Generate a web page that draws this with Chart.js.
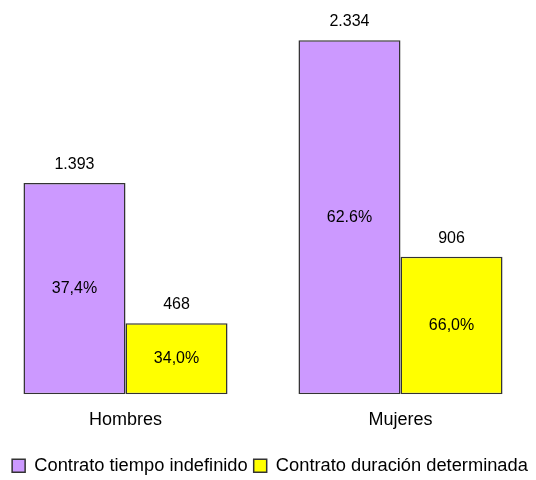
<!DOCTYPE html>
<html>
<head>
<meta charset="utf-8">
<script src="https://cdn.jsdelivr.net/npm/chart.js@4.4.0/dist/chart.umd.min.js"></script>
<style>
  html, body { margin: 0; padding: 0; background: #fff; overflow: hidden; }
  #wrap { position: absolute; left: -12px; top: 0; width: 564px; height: 480px; }
</style>
</head>
<body>
<div id="wrap"><canvas id="myChart"></canvas></div>
<script>
// categorias
var categories = ["Hombres", "Mujeres"];
// series
var seriesNames = ["Contrato tiempo indefinido", "Contrato duración determinada"];
var indefinido = [1393, 2334];
var determinada = [468, 906];
// porcentajes dentro de las barras
var pctIndefinido = ["37,4%", "62.6%"];
var pctDeterminada = ["34,0%", "66,0%"];

var FONT = "'Liberation Sans', Arial, sans-serif";

function fmt(n) {
    return String(n).replace(/\B(?=(\d{3})+(?!\d))/g, ".");
}

// etiquetas de valor y porcentaje
var barLabels = {
    id: "barLabels",
    afterDatasetsDraw: function (chart) {
        var ctx = chart.ctx;
        ctx.save();
        ctx.font = "16px " + FONT;
        ctx.fillStyle = "#000";
        ctx.textAlign = "center";
        chart.data.datasets.forEach(function (ds, i) {
            var meta = chart.getDatasetMeta(i);
            meta.data.forEach(function (bar, j) {
                ctx.textBaseline = "alphabetic";
                ctx.fillText(fmt(ds.data[j]), bar.x, bar.y - 14);
                ctx.textBaseline = "middle";
                ctx.fillText(ds.pct[j], bar.x, (bar.y + bar.base) / 2);
            });
        });
        ctx.restore();
    }
};

var ctx = document.getElementById("myChart");
var myChart = new Chart(ctx, {
    type: "bar",
    data: {
        labels: categories,
        datasets: [
            {
                label: seriesNames[0],
                data: indefinido,
                pct: pctIndefinido,
                backgroundColor: "#CC99FF",
                borderColor: "#333",
                borderWidth: 1.5,
                borderSkipped: false,
            },
            {
                label: seriesNames[1],
                data: determinada,
                pct: pctDeterminada,
                backgroundColor: "#FFFF00",
                borderColor: "#333",
                borderWidth: 1.5,
                borderSkipped: false,
            },
        ],
    },
    options: {
        responsive: true,
        maintainAspectRatio: false,
        animation: false,
        categoryPercentage: 0.742,
        barPercentage: 1,
        layout: { padding: { top: 15, right: 0, left: 0, bottom: -5 } },
        plugins: {
            tooltip: { enabled: false },
            legend: {
                position: "bottom",
                labels: {
                    color: "#000",
                    boxWidth: 13,
                    boxHeight: 13,
                    padding: 6,
                    font: { family: FONT, size: 18.3 },
                },
            },
        },
        scales: {
            x: {
                grid: { display: false, drawTicks: false },
                border: { display: false },
                ticks: {
                    color: "#000",
                    padding: 15,
                    font: { family: FONT, size: 18 },
                },
                afterFit: function (scale) {
                    scale.height = 56.5;
                },
            },
            y: {
                position: "right",
                min: 0,
                max: 2500,
                grid: { display: false, drawTicks: false },
                border: { display: false },
                ticks: { display: false },
                afterFit: function (scale) {
                    scale.width = 14;
                },
            },
        },
    },
    plugins: [barLabels],
});
</script>
</body>
</html>
